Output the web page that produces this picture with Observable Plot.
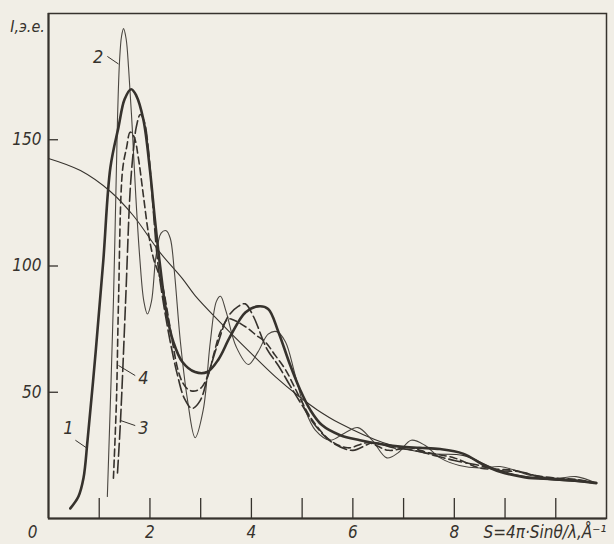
<!DOCTYPE html>
<html>
<head>
<meta charset="utf-8">
<script src="https://cdn.jsdelivr.net/npm/d3@7"></script>
<script src="https://cdn.jsdelivr.net/npm/@observablehq/plot@0.6"></script>
<style>
  html, body { margin: 0; padding: 0; background: #f1eee6; }
  #chart { width: 614px; height: 544px; }
</style>
</head>
<body>
<div id="chart"></div>
<script>
// Tick values
const xTicks = [1, 2, 3, 4, 5, 6, 7, 8, 9, 10];
const xTickLabels = [2, 4, 6, 8];
const yTicks = [50, 100, 150];

// Curve 1 (thick solid)
const curve1 = [[0.43,4],[0.59,8.7],[0.69,16],[0.77,31],[0.93,66],[1.08,102],[1.22,139],[1.38,155],[1.50,166],[1.63,170],[1.73,167.5],[1.87,158],[2.0,138],[2.1,118],[2.2,100],[2.32,82],[2.46,70],[2.64,62],[2.89,58],[3.13,58],[3.35,63],[3.58,72],[3.88,81.6],[4.13,84],[4.33,83],[4.53,74],[4.76,61],[4.96,51],[5.16,43],[5.39,37],[5.75,33],[6.14,31],[6.54,29.5],[6.93,28.5],[7.32,28],[7.72,27.5],[8.17,25.7],[8.6,21],[8.9,18.5],[9.4,16.3],[9.94,15.6],[10.4,15],[10.8,14]];

// Curve 2 (thin solid, strong oscillations)
const curve2 = [[1.16,8.7],[1.28,86],[1.36,158],[1.40,181],[1.44,191],[1.48,194],[1.53,190],[1.58,178],[1.65,155],[1.72,128],[1.80,103],[1.88,86],[1.95,81],[2.03,86],[2.12,104],[2.22,113],[2.32,114],[2.40,111],[2.48,98],[2.6,70],[2.74,47],[2.89,32],[3.05,43],[3.19,70],[3.31,86],[3.39,88],[3.5,82],[3.7,68],[3.94,61],[4.13,66],[4.33,73],[4.5,74],[4.67,70],[4.86,57],[5.06,43],[5.26,35],[5.55,31],[5.85,34],[6.1,36],[6.38,31],[6.67,24],[6.89,26],[7.15,31],[7.42,29],[7.72,24],[8.1,21],[8.5,20],[8.9,20.6],[9.15,19.4],[9.5,17],[10,15.8],[10.4,16.6],[10.8,14]];

// Curve 3 (long dashes)
const curve3 = [[1.36,18],[1.42,39],[1.52,86],[1.61,130],[1.67,145],[1.73,155],[1.81,160],[1.89,157],[1.97,146],[2.05,126],[2.15,102],[2.26,86],[2.4,70],[2.54,57],[2.68,47.5],[2.83,43.6],[2.99,46.7],[3.15,57],[3.35,70],[3.54,80],[3.74,84],[3.88,85],[4.04,80],[4.31,67],[4.53,60.6],[4.76,52.7],[5.0,44.8],[5.26,36.8],[5.6,30],[6.0,27],[6.4,30],[6.8,28],[7.2,27],[7.6,25],[8.0,23],[8.5,21],[8.9,19],[9.3,18.5],[9.7,16.5],[10.2,15.5],[10.8,14]];

// Curve 4 (short dashes)
const curve4 = [[1.28,16],[1.34,47],[1.38,86],[1.46,138],[1.54,147],[1.61,153],[1.69,151],[1.77,143],[1.87,128],[1.97,113],[2.07,103],[2.17,97],[2.26,91],[2.36,80],[2.46,68],[2.55,59],[2.64,54],[2.76,51],[2.89,50.5],[3.02,52],[3.15,57],[3.27,66],[3.39,74],[3.54,79],[3.66,78.5],[3.8,77],[3.95,75],[4.1,72.5],[4.27,70],[4.47,64.6],[4.67,59],[4.85,52],[5.0,46],[5.2,39],[5.55,31],[5.9,28],[6.3,30],[6.7,27],[7.1,28],[7.5,26],[8.0,24],[8.5,20],[8.9,19.5],[9.2,19],[9.6,17],[10,16],[10.4,15.5],[10.8,14]];

// Smooth monotone curve (independent scattering)
const curve0 = [[0,142.6],[0.63,137.8],[1.22,129.5],[1.67,120],[2.2,105.3],[2.64,95],[2.89,88.3],[3.39,77.6],[3.98,65.7],[4.47,56.2],[4.96,48],[5.3,43],[5.75,37.6],[6.59,30.1],[7.52,25.7],[8.17,25],[8.9,19],[9.69,15.8],[10.8,14.3]];

// Curve labels with leader lines (label point, leader start, leader end)
const labelNames = ["1", "2", "3", "4"];
const labelAt = [[0.39,35.6],[0.98,182.5],[1.87,35.6],[1.87,55.4]];
const leaderFrom = [[0.53,31],[1.16,183],[1.71,36.8],[1.71,56.6]];
const leaderTo = [[0.77,27.7],[1.38,180],[1.42,38.8],[1.38,60.6]];

const ink = "#36322d";
const font = "'Liberation Sans Narrow', 'DejaVu Sans Condensed', 'Liberation Sans', sans-serif";

const toObj = (arr) => arr.map(([x, y]) => ({x, y}));
const labels = labelNames.map((t, i) => ({t, x: labelAt[i][0], y: labelAt[i][1]}));
const leaders = labelNames.map((t, i) => ({x1: leaderFrom[i][0], y1: leaderFrom[i][1], x2: leaderTo[i][0], y2: leaderTo[i][1]}));

const chart = Plot.plot({
  width: 614,
  height: 544,
  marginLeft: 48,
  marginRight: 8,
  marginTop: 13,
  marginBottom: 26,
  x: {domain: [0, 11], axis: null},
  y: {domain: [0, 200], axis: null},
  style: {background: "transparent", color: ink, fontFamily: font, fontSize: "17px", fontStyle: "italic"},
  marks: [
    Plot.frame({stroke: ink, strokeWidth: 1.5}),
    Plot.ruleX([0], {stroke: ink, strokeWidth: 2}),
    Plot.ruleY([0], {stroke: ink, strokeWidth: 2}),
    Plot.tickX(xTicks, {x: d => d, insetTop: 548 - 53 - 10 + 0, stroke: ink, strokeWidth: 1.3}),
    Plot.tickY(yTicks, {y: d => d, insetRight: 558 - 10, stroke: ink, strokeWidth: 1.3}),
    Plot.text(xTickLabels, {x: d => d, y: 0, text: d => String(d), dy: 14, fill: ink, fontSize: 17}),
    Plot.text([0], {x: d => d, y: 0, text: d => String(d), dy: 14, dx: -16, fill: ink, fontSize: 17}),
    Plot.text(yTicks, {x: 0, y: d => d, text: d => String(d), textAnchor: "end", dx: -7, fill: ink, fontSize: 17}),
    Plot.text(["I,э.е."], {x: 0, y: 200, text: d => d, dx: -21, dy: 13, fill: ink, fontSize: 16}),
    Plot.text(["S=4π·Sinθ/λ,Å⁻¹"], {x: 11, y: 0, text: d => d, textAnchor: "end", dy: 14, dx: 0, fill: ink, fontSize: 17}),
    Plot.line(toObj(curve0), {x: "x", y: "y", stroke: ink, strokeWidth: 1.1, curve: "catmull-rom"}),
    Plot.line(toObj(curve2), {x: "x", y: "y", stroke: "#4a4640", strokeWidth: 1.1, curve: "catmull-rom"}),
    Plot.line(toObj(curve4), {x: "x", y: "y", stroke: ink, strokeWidth: 1.6, strokeDasharray: "7,4", curve: "catmull-rom"}),
    Plot.line(toObj(curve3), {x: "x", y: "y", stroke: ink, strokeWidth: 1.6, strokeDasharray: "13,4", curve: "catmull-rom"}),
    Plot.line(toObj(curve1), {x: "x", y: "y", stroke: ink, strokeWidth: 2.6, curve: "catmull-rom"}),
    Plot.link(leaders, {x1: "x1", y1: "y1", x2: "x2", y2: "y2", stroke: ink, strokeWidth: 1}),
    Plot.text(labels, {x: "x", y: "y", text: "t", fill: ink, fontSize: 18})
  ]
});
document.getElementById("chart").appendChild(chart);
</script>
</body>
</html>
